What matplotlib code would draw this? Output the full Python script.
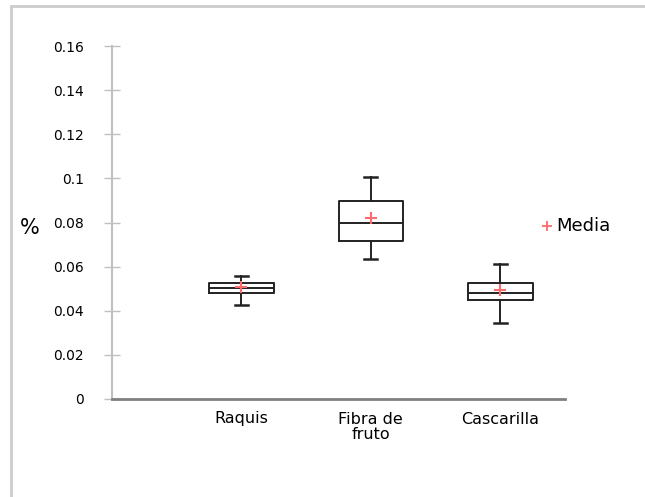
import matplotlib.pyplot as plt
from matplotlib.patches import Rectangle

# box plot summary per material (% content)
materiales = ["Raquis", "Fibra de\nfruto", "Cascarilla"]
bigote_inf = [0.0425, 0.0636, 0.0344]
q1 = [0.0479, 0.0716, 0.0447]
mediana = [0.0503, 0.0799, 0.0481]
q3 = [0.0527, 0.0899, 0.0527]
bigote_sup = [0.0556, 0.1008, 0.0612]
media = [0.0509, 0.0820, 0.0496]

yticks = [0, 0.02, 0.04, 0.06, 0.08, 0.1, 0.12, 0.14, 0.16]
yticklabels = ["0", "0.02", "0.04", "0.06", "0.08", "0.1", "0.12", "0.14", "0.16"]

fig = plt.figure(figsize=(6.45, 4.97), dpi=100)
ax = fig.add_axes([112 / 645, 1 - 399 / 497, 453 / 645, 353 / 497])

# light frame around the whole figure
fig.patches.append(Rectangle((11 / 645, -0.1), 1.2, 1.1 - 6 / 497,
                             transform=fig.transFigure, fill=False,
                             edgecolor="#cccccc", linewidth=2))

stats = []
for i in range(len(materiales)):
    stats.append({"whislo": bigote_inf[i], "q1": q1[i], "med": mediana[i],
                  "q3": q3[i], "whishi": bigote_sup[i], "mean": media[i]})

pos = [1, 2, 3]
ax.bxp(stats, positions=pos, widths=0.5, showmeans=True, showfliers=False,
       boxprops=dict(color="#222222", linewidth=1.4),
       medianprops=dict(color="#222222", linewidth=1.4),
       whiskerprops=dict(color="#222222", linewidth=1.4),
       capprops=dict(color="#222222", linewidth=1.8),
       capwidths=0.1,
       meanprops=dict(marker="+", markeredgecolor="#ff6a6a",
                      markersize=9, markeredgewidth=1.5))

ax.set_xlim(0, 3.5)
ax.set_ylim(0, 0.16)
ax.set_yticks(yticks)
ax.set_yticklabels(yticklabels, fontsize=10)
ax.set_xticks(pos)
ax.set_xticklabels(materiales, fontsize=11.5, linespacing=1.05)
ax.tick_params(axis="x", length=0, pad=9)
ax.tick_params(axis="y", direction="inout", length=12, width=1,
               color="#c0c0c0", pad=14)

for s in ["top", "right"]:
    ax.spines[s].set_visible(False)
ax.spines["left"].set_color("#c0c0c0")
ax.spines["left"].set_linewidth(1.5)
ax.spines["bottom"].set_color("#808080")
ax.spines["bottom"].set_linewidth(2)

fig.text(30 / 645, 1 - 228 / 497, "%", fontsize=15, ha="center", va="center")

# legend for the mean marker
fig.lines.append(plt.Line2D([547 / 645], [1 - 226 / 497], transform=fig.transFigure,
                            marker="+", color="#ff6a6a", markersize=7,
                            markeredgewidth=1.3, linestyle="none"))
fig.text(556 / 645, 1 - 226 / 497, "Media", fontsize=13, ha="left", va="center")

fig.savefig("out.png", dpi=100)
